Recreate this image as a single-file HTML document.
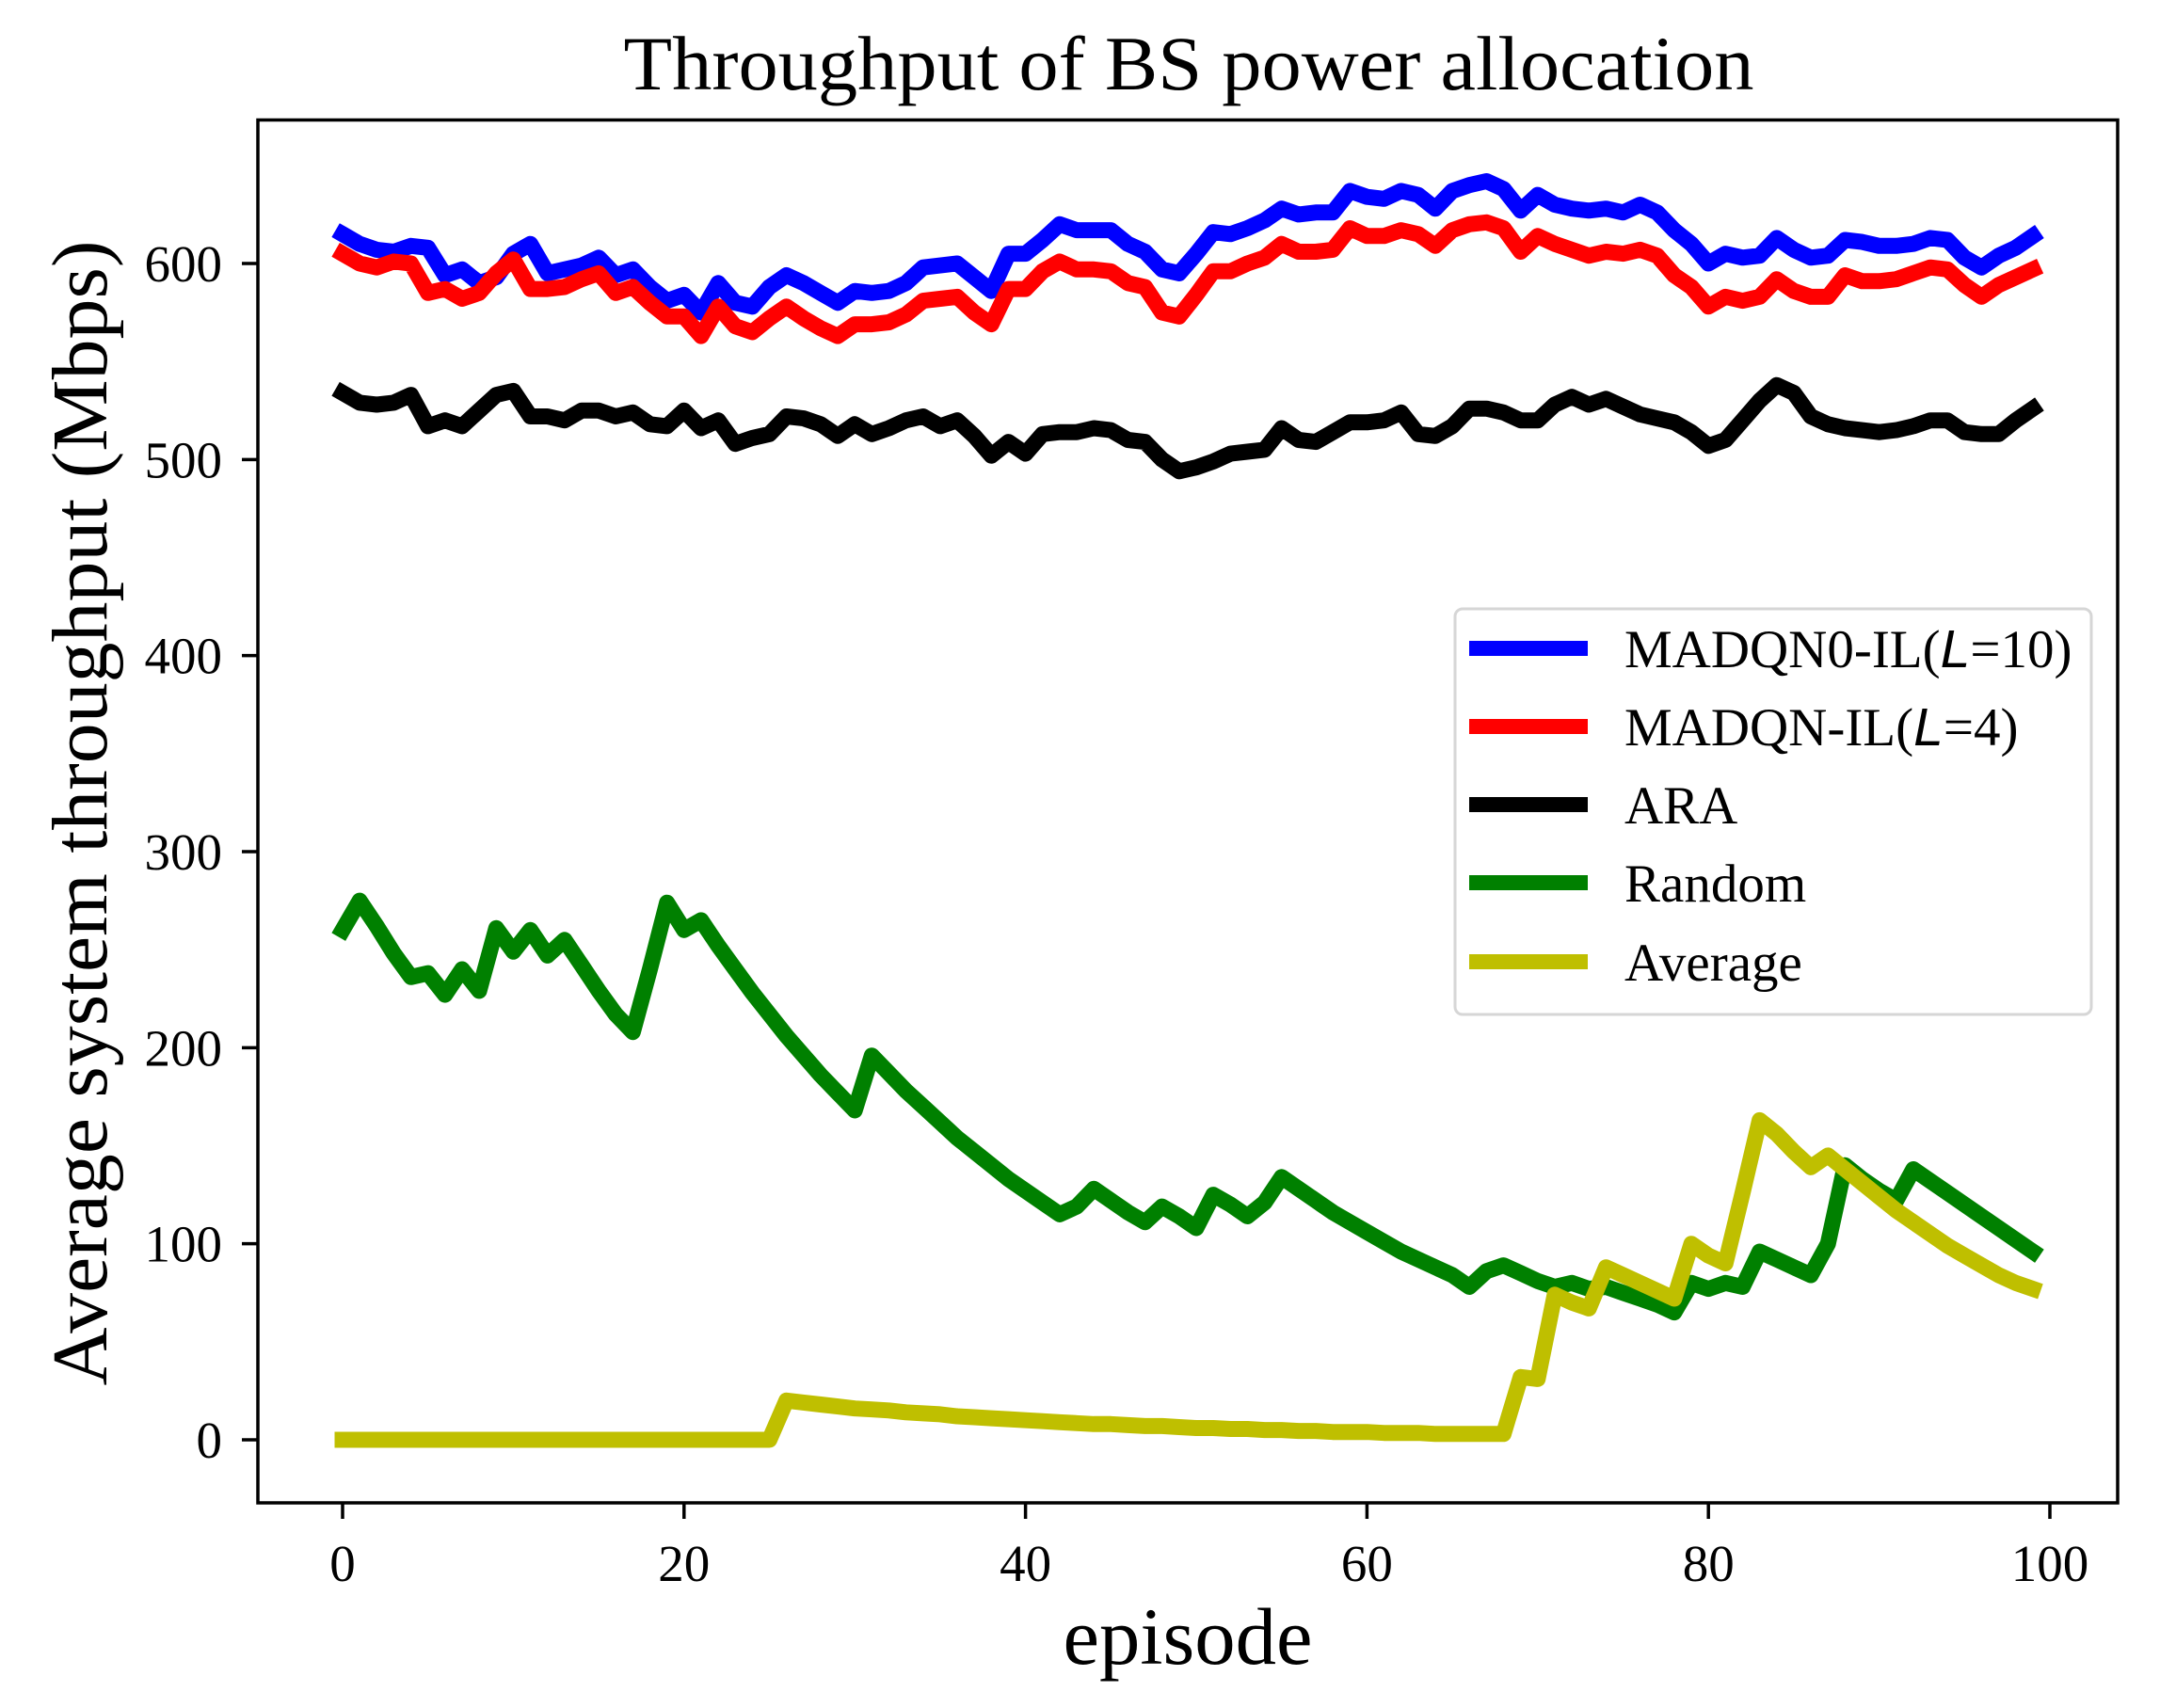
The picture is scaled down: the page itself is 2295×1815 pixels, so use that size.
<!DOCTYPE html>
<html><head><meta charset="utf-8"><style>
html,body{margin:0;padding:0;background:#fff}
svg{display:block}
text{font-family:"Liberation Serif",serif;fill:#000}
</style></head><body>
<svg id="chart" width="2295" height="1815" viewBox="0 0 2295 1815">
<text x="1263" y="95" font-size="82" text-anchor="middle" textLength="1201" lengthAdjust="spacingAndGlyphs">Throughput of BS power allocation</text>
<g id="plot"></g>
<rect x="274" y="127.5" width="1976" height="1469.5" fill="none" stroke="#000" stroke-width="3.5"/>
<g id="ticks"></g>
<text x="1262" y="1768" font-size="86" text-anchor="middle" textLength="265" lengthAdjust="spacingAndGlyphs">episode</text>
<text transform="translate(113,864) rotate(-90)" font-size="84" text-anchor="middle" textLength="1217" lengthAdjust="spacingAndGlyphs">Average system throughput (Mbps)</text>
<g>
<rect x="1546" y="647" width="676" height="431" rx="8" fill="#fff" fill-opacity="0.8" stroke="#d6d6d6" stroke-width="3"/>
<g id="legend-items"></g>
</g>
</svg>
<script>
const episodes = Array.from({length:100},(_, i)=>i);
const madqn0 = [615,610,607,606,609,608,594,597,590,593,605,610,595,597,599,603,594,597,588,581,584,575,590,580,578,588,594,590,585,580,586,585,586,590,598,599,600,593,586,605,605,612,620,617,617,617,610,606,597,595,605,616,615,618,622,628,625,626,626,637,634,633,637,635,628,637,640,642,638,627,635,630,628,627,628,626,630,626,617,610,600,605,603,604,613,607,603,604,612,611,609,609,610,613,612,603,598,604,608,614];
const madqn = [605,600,598,601,600,585,587,582,585,595,602,587,587,588,592,595,585,588,580,573,573,563,578,568,565,572,578,572,567,563,569,569,570,574,581,582,583,575,569,587,587,596,601,597,597,596,590,588,575,573,584,596,596,600,603,610,606,606,607,618,614,614,617,615,609,617,620,621,618,606,614,610,607,604,606,605,607,604,594,588,578,583,581,583,592,586,583,583,594,591,591,592,595,598,597,589,583,589,593,597];
const ara = [534,529,528,529,533,517,520,517,525,533,535,522,522,520,525,525,522,524,518,517,525,516,520,508,511,513,522,521,518,512,518,513,516,520,522,517,520,512,502,509,503,513,514,514,516,515,510,509,500,494,496,499,503,504,505,516,510,509,514,519,519,520,524,513,512,517,526,526,524,520,520,528,532,528,531,527,523,521,519,514,507,510,520,530,538,534,522,518,516,515,514,515,517,520,520,514,513,513,520,526];
const random = [260,275,262,248,236,238,227,240,229,261,249,260,247,255,242,229,217,208,240,274,260,265,252,240,228,217,206,196,186,177,168,196,187,178,170,162,154,147,140,133,127,121,115,119,128,122,116,111,119,114,108,125,120,114,121,134,128,122,116,111,106,101,96,92,88,84,78,86,89,85,81,78,80,77,78,75,72,69,65,80,77,80,78,96,92,88,84,100,140,133,127,122,138,132,126,120,114,108,102,96];
const average = [0,0,0,0,0,0,0,0,0,0,0,0,0,0,0,0,0,0,0,0,0,0,0,0,0,0,20,19,18,17,16,15.5,15,14,13.5,13,12,11.5,11,10.5,10,9.5,9,8.5,8,8,7.5,7,7,6.5,6,6,5.5,5.5,5,5,4.5,4.5,4,4,4,3.5,3.5,3.5,3,3,3,3,3,32,31,74,70,67,88,84,80,76,72,100,94,90,126,163,156,147,139,145,138,131,124,117,111,105,99,94,89,84,80,77];
const xTicks = [0,20,40,60,80,100];
const yTicks = [0,100,200,300,400,500,600];
const seriesNames = ["MADQN0-IL(L=10)","MADQN-IL(L=4)","ARA","Random","Average"];

const NS="http://www.w3.org/2000/svg";
const X0=364, XS=(2178-364)/100, Y0=1530, YS=(1530-280)/600;
function xScale(v){return X0+v*XS;}
function yScale(v){return Y0-v*YS;}
function mk(tag,attrs,parent){const e=document.createElementNS(NS,tag);for(const k in attrs)e.setAttribute(k,attrs[k]);parent.appendChild(e);return e;}

const plot=document.getElementById('plot');
const series=[[madqn0,'#0000ff','madqn0-line'],[madqn,'#ff0000','madqn-line'],[ara,'#000000','ara-line'],[random,'#008000','random-line'],[average,'#bfbf00','average-line']];
series.forEach(([vals,color,name])=>{
  const d=vals.map((v,i)=>(i?'L':'M')+xScale(episodes[i]).toFixed(1)+','+yScale(v).toFixed(1)).join(' ');
  const p=mk('path',{d:d,fill:'none',stroke:color,'stroke-width':17,'stroke-linejoin':'round','stroke-linecap':'square'},plot);
  
  
});

const ticks=document.getElementById('ticks');
xTicks.forEach(t=>{
  const x=xScale(t);
  const l=mk('line',{x1:x,x2:x,y1:1597,y2:1614,stroke:'#000','stroke-width':3.5},ticks);
  
  
  const tx=mk('text',{x:x,y:1680,'font-size':55,'text-anchor':'middle'},ticks);
  tx.textContent=t;
  
  
});
yTicks.forEach(t=>{
  const y=yScale(t);
  const l=mk('line',{x1:257,x2:274,y1:y,y2:y,stroke:'#000','stroke-width':3.5},ticks);
  
  
  const tx=mk('text',{x:236,y:y+19,'font-size':55,'text-anchor':'end'},ticks);
  tx.textContent=t;
  
  
});

const leg=document.getElementById('legend-items');
const legY=[689,772,855,938,1022];
series.forEach(([vals,color,name],i)=>{
  const y=legY[i];
  const l=mk('line',{x1:1561,x2:1687,y1:y,y2:y,stroke:color,'stroke-width':16},leg);
  
  
  const tx=mk('text',{x:1726,y:y+20,'font-size':57},leg);
  const label=seriesNames[i];
  if(label.indexOf('L=')>=0){
    const parts=label.split('L=');
    tx.appendChild(document.createTextNode(parts[0]));
    const ts=mk('tspan',{'font-style':'italic','font-family':'Liberation Sans, sans-serif'},tx);
    ts.textContent='L';
    tx.appendChild(document.createTextNode('='+parts[1]));
  } else tx.textContent=label;
  
  
});
</script>
</body></html>
